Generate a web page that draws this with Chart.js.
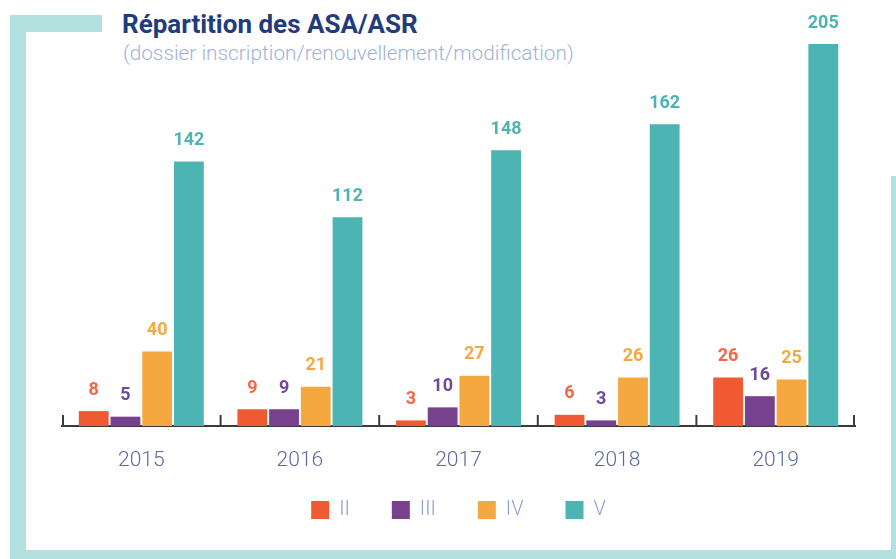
<!DOCTYPE html>
<html>
<head>
<meta charset="utf-8">
<script src="https://cdn.jsdelivr.net/npm/chart.js@4/dist/chart.umd.min.js"></script>
<style>
  html, body { margin: 0; padding: 0; background: #ffffff; }
  #wrap { position: relative; width: 896px; height: 559px; overflow: hidden; font-family: Roboto, "Open Sans", sans-serif; }
  .frame { position: absolute; background: #b3e1df; }
  #title { position: absolute; left: 122px; top: 9px; font-size: 26px; font-weight: 700; color: #1f3c7d; white-space: nowrap; line-height: 30px; }
  #subtitle { position: absolute; left: 123px; top: 41px; font-size: 20.8px; font-weight: 300; color: #9fb3d6; white-space: nowrap; line-height: 24px; }
  canvas { position: absolute; left: 0; top: 0; }
</style>
</head>
<body>
<div id="wrap">
  <div class="frame" style="left:10px;top:15px;width:92px;height:17px;"></div>
  <div class="frame" style="left:10px;top:15px;width:16px;height:544px;"></div>
  <div class="frame" style="left:10px;top:550px;width:886px;height:9px;"></div>
  <div class="frame" style="left:891px;top:176px;width:5px;height:383px;"></div>
  <div id="title">Répartition des ASA/ASR</div>
  <div id="subtitle">(dossier inscription/renouvellement/modification)</div>
  <canvas id="c" width="896" height="559"></canvas>
</div>
<script>
const categories = ['2015', '2016', '2017', '2018', '2019'];
const seriesNames = ['II', 'III', 'IV', 'V'];
const valuesII  = [8, 9, 3, 6, 26];
const valuesIII = [5, 9, 10, 3, 16];
const valuesIV  = [40, 21, 27, 26, 25];
const valuesV   = [142, 112, 148, 162, 205];

const barColors   = ['#f05a32', '#78418e', '#f4a83f', '#4cb4b2'];
const labelColors = ['#f26848', '#6f4a9b', '#f4a940', '#4db3b3'];
const allValues = [valuesII, valuesIII, valuesIV, valuesV];

const datasets = seriesNames.map((name, i) => ({
  label: name,
  data: allValues[i],
  backgroundColor: barColors[i],
  borderWidth: 0,
  categoryPercentage: 0.80,
  barPercentage: 0.94
}));

const valueLabels = {
  id: 'valueLabels',
  afterDatasetsDraw(chart) {
    const ctx = chart.ctx;
    ctx.save();
    ctx.font = '700 18px Roboto';
    ctx.textAlign = 'center';
    ctx.textBaseline = 'middle';
    chart.data.datasets.forEach((ds, i) => {
      const meta = chart.getDatasetMeta(i);
      ctx.fillStyle = labelColors[i];
      meta.data.forEach((el, j) => {
        ctx.fillText(String(ds.data[j]), el.x, el.y - 21);
      });
    });
    ctx.restore();
  }
};

const axisDecor = {
  id: 'axisDecor',
  afterDraw(chart) {
    const xs = chart.scales.x;
    const ctx = chart.ctx;
    const n = categories.length;
    const step = (xs.right - xs.left) / n;
    const y0 = xs.top + 1;
    ctx.save();
    ctx.strokeStyle = '#3a3a3a';
    ctx.lineWidth = 2;
    for (let i = 0; i <= n; i++) {
      let x = xs.left + i * step;
      if (i === 0) x += 1;
      if (i === n) x -= 1;
      ctx.beginPath();
      ctx.moveTo(x, y0);
      ctx.lineTo(x, y0 - 12);
      ctx.stroke();
    }
    // category labels
    ctx.fillStyle = '#5a6a9e';
    ctx.font = '300 21px Roboto';
    ctx.textAlign = 'center';
    ctx.textBaseline = 'middle';
    categories.forEach((c, i) => {
      ctx.fillText(c, xs.getPixelForValue(i), xs.top + 35);
    });
    ctx.restore();
  }
};

new Chart(document.getElementById('c'), {
  type: 'bar',
  data: { labels: categories, datasets },
  options: {
    responsive: false,
    animation: false,
    layout: { padding: { left: 62, right: 41, top: 44, bottom: 29 } },
    plugins: {
      legend: {
        position: 'bottom',
        labels: {
          boxWidth: 18,
          boxHeight: 18,
          padding: 42,
          color: '#8aa0cf',
          font: { family: 'Roboto', size: 20, weight: '300' }
        }
      },
      tooltip: { enabled: false },
      title: { display: false }
    },
    scales: {
      x: {
        grid: { display: false },
        border: { display: true, color: '#3a3a3a', width: 2 },
        ticks: { display: false },
        afterFit(scale) { scale.height = 32; }
      },
      y: {
        display: false,
        min: 0,
        max: 205
      }
    }
  },
  plugins: [valueLabels, axisDecor]
});
</script>
</body>
</html>
